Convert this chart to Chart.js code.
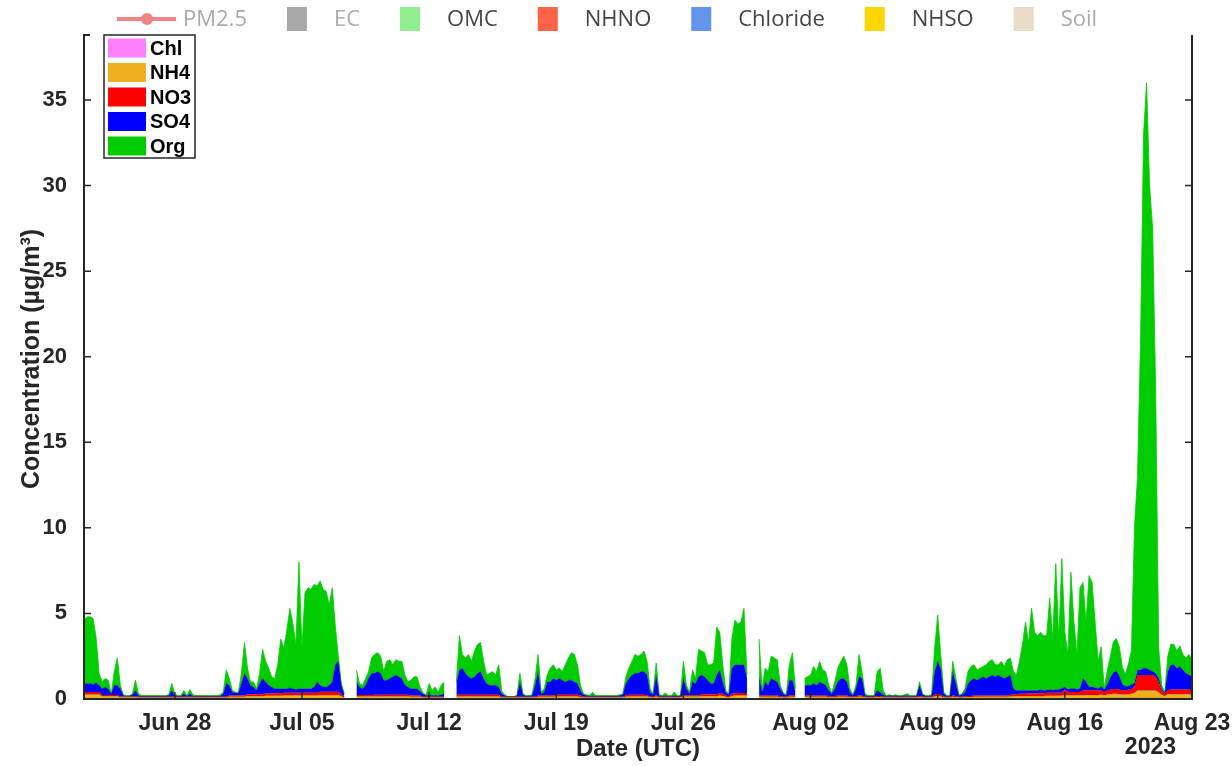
<!DOCTYPE html>
<html>
<head>
<meta charset="utf-8">
<script src="https://cdn.jsdelivr.net/npm/chart.js@4"></script>
<style>
  html, body { margin: 0; background: #fff; }
  canvas { display: block; }
</style>
</head>
<body>
<canvas id="chart" width="1232" height="766"></canvas>
<script>
// 4-hourly values, first point Jun 23 00:00 UTC, one row per day
const STEP_HOURS = 4;

const org = [
  3.7, 3.9, 3.9, 3.85, 2.65, 0.7,      // Jun 23
  0.4, 0.5, 0.5, 0.0, 0.8, 1.6,
  0.2, 0.05, 0.02, 0.02, 0.05, 0.6,
  0.1, 0.03, 0.03, 0.03, 0.03, 0.03,
  0.03, 0.03, 0.03, 0.03, 0.05, 0.4,
  0.1, 0.03, 0.03, 0.2, 0.03, 0.25,    // Jun 28
  0.08, 0.03, 0.03, 0.03, 0.03, 0.03,
  0.03, 0.03, 0.03, 0.07, 0.1, 0.8,
  0.4, 0.1, 0.05, 0.05, 0.6, 1.8,      // Jul 01
  0.6, 0.2, 0.3, 0.1, 0.6, 1.7,
  1.2, 1.0, 0.6, 0.6, 1.4, 2.9,
  2.4, 3.4, 4.65, 3.8, 2.65, 7.4,
  2.4, 5.6, 5.9, 5.8, 6.0, 5.6,        // Jul 05
  6.1, 5.7, 5.6, 4.7, 5.5, 2.3,
  0.3, 0.1, 0.05, null, null, null,
  0.7, 0.2, 0.2, 0.4, 0.4, 0.9,
  1.1, 1.1, 1.0, 0.5, 1.1, 1.1,
  0.7, 0.9, 0.9, 1.0, 0.6, 0.3,
  0.5, 0.7, 0.7, 0.25, 0.05, 0.05,
  0.65, 0.3, 0.48, 0.2, 0.55, 0.7,     // Jul 12
  null, null, null, 0.1, 2.0, 0.8,
  0.9, 1.3, 1.0, 1.5, 1.7, 1.7,
  1.0, 0.5, 0.7, 0.8, 0.6, 1.3,
  0.15, 0.05, 0.01, 0.01, 0.01, 0.03,
  0.5, 0.05, 0.03, 0.03, 0.05, 0.4,
  1.0, 0.1, 0.2, 0.4, 0.8, 0.8,
  0.6, 0.6, 0.5, 1.0, 1.3, 1.6,        // Jul 19
  1.6, 1.1, 0.3, 0.05, 0.05, 0.03,
  0.2, 0.03, 0.03, 0.03, 0.03, 0.03,
  0.03, 0.03, 0.03, 0.05, 0.05, 0.4,
  0.6, 0.8, 1.1, 1.0, 1.0, 1.2,
  0.8, 0.2, 0.05, 0.7, 0.05, 0.03,
  0.15, 0.03, 0.03, 0.2, 0.03, 0.03,
  1.0, 0.2, 0.1, 0.7, 0.3, 1.6,        // Jul 26
  1.4, 1.4, 0.9, 1.1, 1.2, 2.8,
  2.2, 1.0, 0.1, 0.05, 1.7, 2.6,
  2.4, 2.5, 3.3, 0.2, null, null,
  null, 2.2, 0.2, 0.8, 0.8, 1.3,
  1.3, 1.3, 0.2, 0.05, 0.05, 0.9,
  1.6, 0.2, null, null, 0.4, 0.5,      // Aug 01
  0.6, 1.0, 0.8, 1.2, 0.8, 0.8,
  0.3, 0.05, 0.4, 0.8, 1.0, 1.3,
  1.0, 0.2, 0.05, 0.2, 1.3, 0.4,
  0.1, 0.03, 0.03, 0.03, 1.1, 1.4,
  0.25, 0.03, 0.05, 0.03, 0.05, 0.03,
  0.03, 0.05, 0.1, 0.03, 0.03, 0.03,
  0.2, 0.05, 0.03, 0.03, 0.05, 1.4,    // Aug 08
  2.7, 0.8, 0.1, 0.03, 0.03, 0.6,
  0.3, 0.05, 0.05, 0.2, 0.7, 0.8,
  0.8, 0.6, 0.6, 0.6, 0.8, 0.9,
  0.9, 0.7, 0.6, 0.9, 0.7, 1.0,
  1.0, 1.0, 0.9, 1.7, 2.7, 4.0,
  2.8, 4.8, 3.4, 3.2, 3.35, 3.2,
  3.2, 5.35, 3.0, 7.35, 2.95, 7.6,     // Aug 15
  3.2, 2.05, 6.8, 3.9, 2.05, 5.9,
  5.6, 3.5, 6.5, 6.1, 3.85, 1.6,
  2.3, 0.1, 0.8, 1.2, 1.8, 1.9,
  1.7, 1.0, 0.7, 1.3, 2.0, 9.1,
  11.3, 19.3, 31.2, 34.2, 28.3, 25.9,
  16.5, 1.8, 0.2, 0.05, 0.9, 1.2,
  1.2, 1.0, 1.2, 0.9, 0.9, 1.2,        // Aug 22
  1.0
];

const so4 = [
  0.49, 0.49, 0.49, 0.44, 0.54, 0.39,
  0.36, 0.46, 0.36, 0.06, 0.56, 0.56,
  0.45, 0.05, 0.03, 0.03, 0.1, 0.35,
  0.07, 0.04, 0.04, 0.04, 0.04, 0.04,
  0.04, 0.04, 0.04, 0.04, 0.07, 0.37,
  0.07, 0.04, 0.04, 0.17, 0.04, 0.17,
  0.04, 0.04, 0.04, 0.04, 0.04, 0.04,
  0.04, 0.04, 0.04, 0.05, 0.17, 0.77,
  0.59, 0.19, 0.14, 0.14, 0.69, 1.29,
  0.92, 0.52, 0.42, 0.22, 0.62, 0.92,
  0.66, 0.46, 0.36, 0.26, 0.26, 0.26,
  0.24, 0.24, 0.29, 0.24, 0.19, 0.24,
  0.24, 0.24, 0.24, 0.24, 0.34, 0.64,
  0.37, 0.27, 0.27, 0.37, 0.57, 1.57,
  1.77, 0.52, 0.11, null, null, null,
  0.76, 0.46, 0.36, 0.56, 0.96, 1.26,
  1.25, 1.35, 1.25, 0.85, 0.85, 0.95,
  1.05, 1.15, 1.05, 0.95, 0.55, 0.45,
  0.39, 0.39, 0.39, 0.24, 0.17, 0.07,
  0.12, 0.07, 0.09, 0.07, 0.12, 0.17,
  null, null, null, 0.65, 1.45, 1.55,
  1.25, 1.05, 0.95, 1.05, 1.25, 1.35,
  0.95, 0.65, 0.55, 0.55, 0.55, 0.45,
  0.17, 0.07, 0.01, 0.01, 0.01, 0.04,
  0.87, 0.12, 0.04, 0.04, 0.07, 0.67,
  1.4, 0.1, 0.2, 0.8, 0.8, 1.0,
  0.85, 0.95, 0.85, 0.75, 0.85, 0.85,
  0.75, 0.65, 0.3, 0.12, 0.07, 0.04,
  0.07, 0.04, 0.04, 0.04, 0.04, 0.04,
  0.04, 0.04, 0.04, 0.07, 0.12, 0.7,
  0.95, 1.15, 1.25, 1.25, 1.35, 1.35,
  1.18, 0.25, 0.12, 1.18, 0.07, 0.04,
  0.07, 0.04, 0.04, 0.07, 0.04, 0.04,
  0.98, 0.38, 0.08, 0.78, 0.68, 1.08,
  1.12, 1.02, 0.82, 0.62, 0.62, 1.12,
  1.35, 0.7, 0.2, 0.12, 1.5, 1.67,
  1.65, 1.65, 1.65, 0.85, null, null,
  null, 1.1, 0.2, 0.8, 0.6, 1.0,
  0.9, 0.8, 0.42, 0.17, 0.07, 0.9,
  0.9, 0.2, null, null, 0.6, 0.6,
  0.6, 0.7, 0.6, 0.8, 0.7, 0.6,
  0.32, 0.17, 0.42, 0.8, 1.0, 1.0,
  0.8, 0.25, 0.07, 0.42, 1.1, 1.0,
  0.07, 0.04, 0.04, 0.04, 0.32, 0.22,
  0.12, 0.04, 0.07, 0.04, 0.07, 0.04,
  0.04, 0.07, 0.07, 0.04, 0.04, 0.04,
  0.62, 0.12, 0.04, 0.04, 0.07, 1.35,
  1.9, 1.55, 0.17, 0.04, 0.04, 1.4,
  0.72, 0.07, 0.12, 0.25, 0.72, 0.92,
  1.0, 0.9, 1.0, 1.1, 1.0, 1.1,
  1.2, 1.1, 1.2, 1.1, 1.0, 1.1,
  1.15, 0.35, 0.22, 0.2, 0.2, 0.2,
  0.17, 0.17, 0.17, 0.17, 0.22, 0.17,
  0.15, 0.2, 0.15, 0.2, 0.2, 0.25,
  0.15, 0.15, 0.2, 0.2, 0.15, 0.2,
  0.7, 0.5, 0.2, 0.2, 0.15, 0.1,
  0.25, 0.15, 0.35, 0.7, 0.95, 1.05,
  0.8, 0.35, 0.25, 0.2, 0.25, 0.2,
  0.3, 0.3, 0.4, 0.4, 0.3, 0.2,
  0.2, 0.2, 0.1, 0.05, 1.1, 1.45,
  1.45, 1.25, 1.35, 1.15, 0.95, 0.85,
  0.8
];

const no3 = [
  0.15, 0.15, 0.15, 0.15, 0.15, 0.15,
  0.08, 0.08, 0.08, 0.08, 0.08, 0.08,
  0.05, 0.05, 0.05, 0.05, 0.05, 0.05,
  0.04, 0.04, 0.04, 0.04, 0.04, 0.04,
  0.04, 0.04, 0.04, 0.04, 0.04, 0.04,
  0.04, 0.04, 0.04, 0.04, 0.04, 0.04,
  0.04, 0.04, 0.04, 0.04, 0.04, 0.04,
  0.04, 0.04, 0.04, 0.04, 0.04, 0.04,
  0.08, 0.08, 0.08, 0.08, 0.08, 0.08,
  0.12, 0.12, 0.12, 0.12, 0.12, 0.12,
  0.15, 0.15, 0.15, 0.15, 0.15, 0.15,
  0.15, 0.15, 0.15, 0.15, 0.15, 0.15,
  0.15, 0.15, 0.15, 0.15, 0.15, 0.15,
  0.2, 0.2, 0.2, 0.2, 0.2, 0.2,
  0.2, 0.12, 0.05, null, null, null,
  0.1, 0.1, 0.1, 0.1, 0.1, 0.1,
  0.1, 0.1, 0.1, 0.1, 0.1, 0.1,
  0.1, 0.1, 0.1, 0.1, 0.1, 0.1,
  0.08, 0.08, 0.08, 0.08, 0.04, 0.04,
  0.04, 0.04, 0.04, 0.04, 0.04, 0.04,
  null, null, null, 0.1, 0.1, 0.1,
  0.1, 0.1, 0.1, 0.1, 0.1, 0.1,
  0.1, 0.1, 0.1, 0.1, 0.1, 0.1,
  0.04, 0.04, 0.04, 0.04, 0.04, 0.04,
  0.04, 0.04, 0.04, 0.04, 0.04, 0.04,
  0.07, 0.07, 0.07, 0.07, 0.07, 0.07,
  0.1, 0.1, 0.1, 0.1, 0.1, 0.1,
  0.1, 0.1, 0.08, 0.04, 0.04, 0.04,
  0.04, 0.04, 0.04, 0.04, 0.04, 0.04,
  0.04, 0.04, 0.04, 0.04, 0.04, 0.07,
  0.1, 0.1, 0.1, 0.1, 0.1, 0.1,
  0.08, 0.05, 0.04, 0.08, 0.04, 0.04,
  0.04, 0.04, 0.04, 0.04, 0.04, 0.04,
  0.08, 0.08, 0.08, 0.08, 0.08, 0.08,
  0.12, 0.12, 0.12, 0.12, 0.12, 0.12,
  0.14, 0.12, 0.07, 0.04, 0.12, 0.13,
  0.14, 0.14, 0.14, 0.14, null, null,
  null, 0.07, 0.07, 0.07, 0.07, 0.07,
  0.07, 0.07, 0.06, 0.04, 0.04, 0.07,
  0.07, 0.07, null, null, 0.07, 0.07,
  0.07, 0.07, 0.07, 0.07, 0.07, 0.07,
  0.06, 0.04, 0.06, 0.07, 0.07, 0.07,
  0.07, 0.05, 0.04, 0.06, 0.07, 0.07,
  0.04, 0.04, 0.04, 0.04, 0.06, 0.06,
  0.04, 0.04, 0.04, 0.04, 0.04, 0.04,
  0.04, 0.04, 0.04, 0.04, 0.04, 0.04,
  0.06, 0.04, 0.04, 0.04, 0.04, 0.1,
  0.12, 0.1, 0.04, 0.04, 0.04, 0.07,
  0.06, 0.04, 0.04, 0.05, 0.06, 0.06,
  0.07, 0.07, 0.07, 0.07, 0.07, 0.07,
  0.07, 0.07, 0.07, 0.07, 0.07, 0.07,
  0.1, 0.1, 0.12, 0.13, 0.13, 0.13,
  0.16, 0.16, 0.16, 0.16, 0.16, 0.16,
  0.17, 0.17, 0.17, 0.17, 0.17, 0.17,
  0.32, 0.19, 0.19, 0.19, 0.19, 0.19,
  0.27, 0.27, 0.27, 0.27, 0.27, 0.27,
  0.24, 0.18, 0.24, 0.27, 0.29, 0.29,
  0.27, 0.24, 0.24, 0.27, 0.29, 0.37,
  0.9, 0.9, 0.9, 0.9, 0.9, 0.9,
  0.8, 0.6, 0.25, 0.12, 0.22, 0.27,
  0.27, 0.27, 0.27, 0.27, 0.27, 0.27,
  0.25
];

const nh4 = [
  0.25, 0.25, 0.25, 0.25, 0.25, 0.25,
  0.15, 0.15, 0.15, 0.15, 0.15, 0.15,
  0.09, 0.09, 0.09, 0.09, 0.09, 0.09,
  0.08, 0.08, 0.08, 0.08, 0.08, 0.08,
  0.08, 0.08, 0.08, 0.08, 0.08, 0.08,
  0.08, 0.08, 0.08, 0.08, 0.08, 0.08,
  0.08, 0.08, 0.08, 0.08, 0.08, 0.08,
  0.08, 0.08, 0.08, 0.08, 0.08, 0.08,
  0.12, 0.12, 0.12, 0.12, 0.12, 0.12,
  0.15, 0.15, 0.15, 0.15, 0.15, 0.15,
  0.18, 0.18, 0.18, 0.18, 0.18, 0.18,
  0.2, 0.2, 0.2, 0.2, 0.2, 0.2,
  0.2, 0.2, 0.2, 0.2, 0.2, 0.2,
  0.22, 0.22, 0.22, 0.22, 0.22, 0.22,
  0.22, 0.15, 0.08, null, null, null,
  0.13, 0.13, 0.13, 0.13, 0.13, 0.13,
  0.14, 0.14, 0.14, 0.14, 0.14, 0.14,
  0.14, 0.14, 0.14, 0.14, 0.14, 0.14,
  0.12, 0.12, 0.12, 0.12, 0.08, 0.08,
  0.08, 0.08, 0.08, 0.08, 0.08, 0.08,
  null, null, null, 0.14, 0.14, 0.14,
  0.14, 0.14, 0.14, 0.14, 0.14, 0.14,
  0.14, 0.14, 0.14, 0.14, 0.14, 0.14,
  0.08, 0.08, 0.08, 0.08, 0.08, 0.08,
  0.08, 0.08, 0.08, 0.08, 0.08, 0.08,
  0.12, 0.12, 0.12, 0.12, 0.12, 0.12,
  0.14, 0.14, 0.14, 0.14, 0.14, 0.14,
  0.14, 0.14, 0.11, 0.08, 0.08, 0.08,
  0.08, 0.08, 0.08, 0.08, 0.08, 0.08,
  0.08, 0.08, 0.08, 0.08, 0.08, 0.12,
  0.14, 0.14, 0.14, 0.14, 0.14, 0.14,
  0.13, 0.09, 0.08, 0.13, 0.08, 0.08,
  0.08, 0.08, 0.08, 0.08, 0.08, 0.08,
  0.13, 0.13, 0.13, 0.13, 0.13, 0.13,
  0.15, 0.15, 0.15, 0.15, 0.15, 0.15,
  0.2, 0.17, 0.12, 0.08, 0.17, 0.19,
  0.2, 0.2, 0.2, 0.2, null, null,
  null, 0.12, 0.12, 0.12, 0.12, 0.12,
  0.12, 0.12, 0.11, 0.08, 0.08, 0.12,
  0.12, 0.12, null, null, 0.12, 0.12,
  0.12, 0.12, 0.12, 0.12, 0.12, 0.12,
  0.11, 0.08, 0.11, 0.12, 0.12, 0.12,
  0.12, 0.09, 0.08, 0.11, 0.12, 0.12,
  0.08, 0.08, 0.08, 0.08, 0.11, 0.11,
  0.08, 0.08, 0.08, 0.08, 0.08, 0.08,
  0.08, 0.08, 0.08, 0.08, 0.08, 0.08,
  0.11, 0.08, 0.08, 0.08, 0.08, 0.14,
  0.17, 0.14, 0.08, 0.08, 0.08, 0.12,
  0.11, 0.08, 0.08, 0.09, 0.11, 0.11,
  0.12, 0.12, 0.12, 0.12, 0.12, 0.12,
  0.12, 0.12, 0.12, 0.12, 0.12, 0.12,
  0.14, 0.14, 0.15, 0.16, 0.16, 0.16,
  0.16, 0.16, 0.16, 0.16, 0.16, 0.16,
  0.17, 0.17, 0.17, 0.17, 0.17, 0.17,
  0.22, 0.2, 0.2, 0.2, 0.2, 0.2,
  0.22, 0.22, 0.22, 0.22, 0.22, 0.22,
  0.2, 0.16, 0.2, 0.22, 0.24, 0.24,
  0.22, 0.2, 0.2, 0.22, 0.24, 0.3,
  0.45, 0.45, 0.45, 0.45, 0.45, 0.45,
  0.45, 0.35, 0.2, 0.15, 0.25, 0.25,
  0.25, 0.25, 0.25, 0.25, 0.25, 0.25,
  0.23
];

const chl = [
  0.01, 0.01, 0.01, 0.01, 0.01, 0.01,  0.01, 0.01, 0.01, 0.01, 0.01, 0.01,
  0.01, 0.01, 0.01, 0.01, 0.01, 0.01,  0.01, 0.01, 0.01, 0.01, 0.01, 0.01,
  0.01, 0.01, 0.01, 0.01, 0.01, 0.01,  0.01, 0.01, 0.01, 0.01, 0.01, 0.01,
  0.01, 0.01, 0.01, 0.01, 0.01, 0.01,  0.01, 0.01, 0.01, 0.01, 0.01, 0.01,
  0.01, 0.01, 0.01, 0.01, 0.01, 0.01,  0.01, 0.01, 0.01, 0.01, 0.01, 0.01,
  0.01, 0.01, 0.01, 0.01, 0.01, 0.01,  0.01, 0.01, 0.01, 0.01, 0.01, 0.01,
  0.01, 0.01, 0.01, 0.01, 0.01, 0.01,  0.01, 0.01, 0.01, 0.01, 0.01, 0.01,
  0.01, 0.01, 0.01, null, null, null,  // Jul 07
  0.01, 0.01, 0.01, 0.01, 0.01, 0.01,  0.01, 0.01, 0.01, 0.01, 0.01, 0.01,
  0.01, 0.01, 0.01, 0.01, 0.01, 0.01,  0.01, 0.01, 0.01, 0.01, 0.01, 0.01,
  0.01, 0.01, 0.01, 0.01, 0.01, 0.01,
  null, null, null, 0.01, 0.01, 0.01,  // Jul 13
  0.01, 0.01, 0.01, 0.01, 0.01, 0.01,  0.01, 0.01, 0.01, 0.01, 0.01, 0.01,
  0.01, 0.01, 0.01, 0.01, 0.01, 0.01,  0.01, 0.01, 0.01, 0.01, 0.01, 0.01,
  0.01, 0.01, 0.01, 0.01, 0.01, 0.01,  0.01, 0.01, 0.01, 0.01, 0.01, 0.01,
  0.01, 0.01, 0.01, 0.01, 0.01, 0.01,  0.01, 0.01, 0.01, 0.01, 0.01, 0.01,
  0.01, 0.01, 0.01, 0.01, 0.01, 0.01,  0.01, 0.01, 0.01, 0.01, 0.01, 0.01,
  0.01, 0.01, 0.01, 0.01, 0.01, 0.01,  0.01, 0.01, 0.01, 0.01, 0.01, 0.01,
  0.01, 0.01, 0.01, 0.01, 0.01, 0.01,  0.01, 0.01, 0.01, 0.01, 0.01, 0.01,
  0.01, 0.01, 0.01, 0.01, 0.01, 0.01,
  0.01, 0.01, 0.01, 0.01, null, null,  // Jul 29
  null, 0.01, 0.01, 0.01, 0.01, 0.01,
  0.01, 0.01, 0.01, 0.01, 0.01, 0.01,
  0.01, 0.01, null, null, 0.01, 0.01,  // Aug 01
  0.01, 0.01, 0.01, 0.01, 0.01, 0.01,  0.01, 0.01, 0.01, 0.01, 0.01, 0.01,
  0.01, 0.01, 0.01, 0.01, 0.01, 0.01,  0.01, 0.01, 0.01, 0.01, 0.01, 0.01,
  0.01, 0.01, 0.01, 0.01, 0.01, 0.01,  0.01, 0.01, 0.01, 0.01, 0.01, 0.01,
  0.01, 0.01, 0.01, 0.01, 0.01, 0.01,  0.01, 0.01, 0.01, 0.01, 0.01, 0.01,
  0.01, 0.01, 0.01, 0.01, 0.01, 0.01,  0.01, 0.01, 0.01, 0.01, 0.01, 0.01,
  0.01, 0.01, 0.01, 0.01, 0.01, 0.01,  0.01, 0.01, 0.01, 0.01, 0.01, 0.01,
  0.01, 0.01, 0.01, 0.01, 0.01, 0.01,
  0.02, 0.02, 0.02, 0.02, 0.02, 0.02,  0.02, 0.02, 0.02, 0.02, 0.02, 0.02,
  0.02, 0.02, 0.02, 0.02, 0.02, 0.02,
  0.06, 0.06, 0.06, 0.06, 0.06, 0.06,  0.06, 0.06, 0.06, 0.06, 0.06, 0.06,
  0.05, 0.05, 0.05, 0.05, 0.05, 0.05,
  0.05, 0.05, 0.05, 0.03, 0.03, 0.03,
  0.03, 0.03, 0.03, 0.03, 0.03, 0.03,
  0.03
];

// axis ticks, in days after Jun 23 00:00
const tickDays = [5, 12, 19, 26, 33, 40, 47, 54, 61];
const tickLabels = ['Jun 28', 'Jul 05', 'Jul 12', 'Jul 19', 'Jul 26', 'Aug 02', 'Aug 09', 'Aug 16', 'Aug 23'];
const yTicks = [0, 5, 10, 15, 20, 25, 30, 35];

// stacked layers, bottom to top
const layerNames = ['Chl', 'NH4', 'NO3', 'SO4', 'Org'];
const layerData = [chl, nh4, no3, so4, org];
const layerColors = ['#ff80ff', '#edb120', '#ff0000', '#0000ff', '#00cc00'];

// overlay legend across the top
const topNames = ['PM2.5', 'EC', 'OMC', 'NHNO', 'Chloride', 'NHSO', 'Soil'];
const topColors = ['#f38484', '#a8a8a8', '#90ee90', '#ff6347', '#6495ed', '#ffd700', '#e8dcc8'];
const topActive = [false, false, true, true, true, true, false];

const times = org.map((_, i) => i * STEP_HOURS / 24);
const INK = '#262626';
const FONT = "'Liberation Sans', Arial, sans-serif";

const frame = {
    id: 'frame',
    afterDatasetsDraw(chart) {
        const { ctx, chartArea: a, scales: { x, y } } = chart;
        ctx.save();
        ctx.strokeStyle = INK;
        ctx.lineWidth = 2;
        ctx.beginPath();
        ctx.moveTo(a.left + 6, a.top);
        ctx.lineTo(a.left, a.top);
        ctx.lineTo(a.left, a.bottom);
        ctx.lineTo(a.right, a.bottom);
        ctx.lineTo(a.right, a.top);
        ctx.stroke();

        // inward tick marks like the original figure
        ctx.lineWidth = 1.5;
        ctx.beginPath();
        y.ticks.forEach(t => {
            const py = y.getPixelForValue(t.value);
            ctx.moveTo(a.left, py); ctx.lineTo(a.left + 7, py);
            ctx.moveTo(a.right, py); ctx.lineTo(a.right - 7, py);
        });
        x.ticks.forEach(t => {
            const px = x.getPixelForValue(t.value);
            ctx.moveTo(px, a.bottom); ctx.lineTo(px, a.bottom - 7);
        });
        ctx.stroke();

        ctx.fillStyle = INK;
        ctx.textBaseline = 'middle';

        // year under the last date
        ctx.font = 'bold 23px ' + FONT;
        ctx.textAlign = 'right';
        ctx.fillText('2023', a.right - 16, 748);

        // y axis title, a little above the axis centre as in the figure
        ctx.font = 'bold 25px ' + FONT;
        ctx.textAlign = 'center';
        ctx.translate(32, (a.top + a.bottom) / 2 - 8);
        ctx.rotate(-Math.PI / 2);
        ctx.fillText('Concentration (µg/m³)', 0, 0);
        ctx.restore();
    },
    afterDraw(chart) {
        const { ctx, chartArea: a } = chart;
        ctx.save();

        // boxed legend in the top-left corner
        const bx = a.left + 20, by = a.top, bw = 91, bh = 123;
        ctx.fillStyle = '#fff';
        ctx.fillRect(bx, by, bw, bh);
        ctx.strokeStyle = INK;
        ctx.lineWidth = 1.5;
        ctx.strokeRect(bx, by, bw, bh);
        ctx.font = 'bold 20px ' + FONT;
        ctx.textBaseline = 'middle';
        ctx.textAlign = 'left';
        layerNames.forEach((name, i) => {
            const cy = by + 13 + i * 24.5;
            ctx.fillStyle = layerColors[i];
            ctx.fillRect(bx + 4, cy - 9.5, 38, 19);
            ctx.fillStyle = '#000';
            ctx.fillText(name, bx + 46, cy + 1);
        });

        // top legend
        ctx.font = "22px 'Open Sans', sans-serif";
        const cy = 19;
        let px = 117;
        topNames.forEach((name, i) => {
            let tx;
            if (i === 0) {
                ctx.strokeStyle = topColors[i];
                ctx.lineWidth = 4;
                ctx.beginPath();
                ctx.moveTo(px, cy); ctx.lineTo(px + 59, cy);
                ctx.stroke();
                ctx.fillStyle = topColors[i];
                ctx.beginPath();
                ctx.arc(px + 30, cy, 6, 0, Math.PI * 2);
                ctx.fill();
                tx = px + 66;
            } else {
                ctx.fillStyle = topColors[i];
                ctx.fillRect(px, cy - 12, 20, 24);
                tx = px + 47;
            }
            ctx.fillStyle = topActive[i] ? '#444' : '#aaa';
            ctx.fillText(name, tx, cy + 1);
            px = tx + ctx.measureText(name).width + 40;
        });
        ctx.restore();
    }
};

new Chart(document.getElementById('chart'), {
    type: 'line',
    data: {
        labels: times,
        datasets: layerData.map((data, i) => ({
            label: layerNames[i],
            data: data,
            backgroundColor: layerColors[i],
            borderColor: i === 4 ? layerColors[i] : 'rgba(0,0,0,0.35)',
            borderWidth: i === 4 ? 0.8 : 0.6,
            fill: i === 0 ? 'origin' : '-1',
            pointRadius: 0,
            pointHitRadius: 0,
            tension: 0
        }))
    },
    options: {
        responsive: false,
        animation: false,
        devicePixelRatio: 1,
        layout: { padding: { top: 35, right: 40, left: 0, bottom: 0 } },
        plugins: { legend: { display: false }, tooltip: { enabled: false } },
        scales: {
            x: {
                type: 'linear',
                min: 0,
                max: 61,
                grid: { display: false },
                border: { display: false },
                afterBuildTicks: s => { s.ticks = tickDays.map(v => ({ value: v })); },
                afterFit: s => { s.height = 67; s.paddingLeft = 0; s.paddingRight = 0; },
                ticks: {
                    autoSkip: false,
                    maxRotation: 0,
                    padding: 3,
                    color: INK,
                    font: { family: FONT, size: 23, weight: 'bold' },
                    callback: (v, i) => tickLabels[i]
                },
                title: {
                    display: true,
                    text: 'Date (UTC)',
                    color: INK,
                    padding: { top: 0, bottom: 2 },
                    font: { family: FONT, size: 24, weight: 'bold' }
                }
            },
            y: {
                stacked: true,
                min: 0,
                max: 38.8,
                grid: { display: false },
                border: { display: false },
                afterBuildTicks: s => { s.ticks = yTicks.map(v => ({ value: v })); },
                afterFit: s => { s.width = 84; },
                ticks: {
                    padding: 9,
                    color: INK,
                    font: { family: FONT, size: 22, weight: 'bold' }
                }
            }
        }
    },
    plugins: [frame]
});
</script>
</body>
</html>
